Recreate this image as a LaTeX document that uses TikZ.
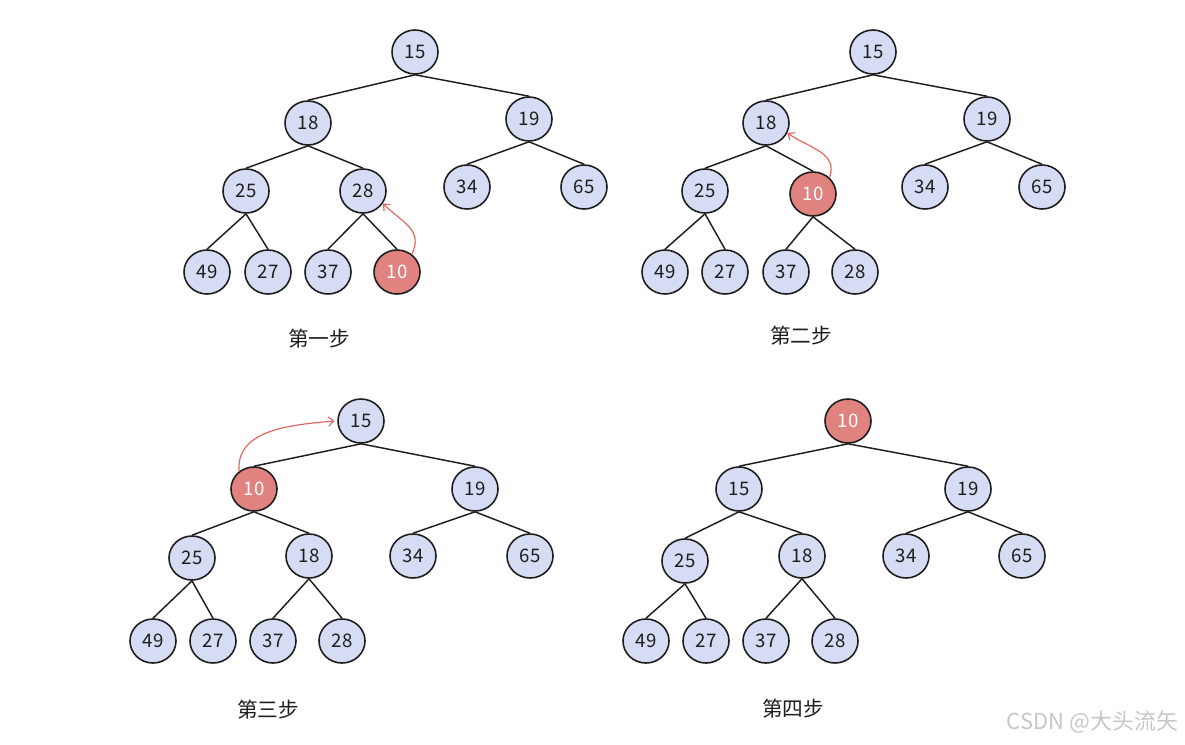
\documentclass[tikz,border=0pt]{standalone}
\usepackage{fontspec}
\setmainfont{Noto Sans CJK SC}
\usepackage{tikz}
\usetikzlibrary{positioning,arrows.meta,shapes.geometric}
\definecolor{heapfill}{RGB}{214,220,244}
\definecolor{swapfill}{RGB}{224,130,128}
\definecolor{arrowred}{RGB}{222,104,100}
\definecolor{ink}{RGB}{30,30,30}

\begin{document}
\begin{tikzpicture}[
    x=0.75pt, y=-0.75pt,
    heapnode/.style={ellipse, draw=ink, line width=1.2pt, fill=heapfill, minimum width=34.5pt, minimum height=33pt, inner sep=0pt, text=ink, font=\fontsize{14}{16}\selectfont},
    swapnode/.style={heapnode, fill=swapfill, text=white},
    edge/.style={draw=ink, line width=1.1pt},
    arrow/.style={-{Straight Barb[length=4pt,width=7pt]}, draw=arrowred, line width=0.9pt},
    steptext/.style={text=ink, font=\fontsize{15.5}{17}\selectfont}
]
\useasboundingbox (0,0) rectangle (1185,744);

% Step 1
\node[heapnode] (a15) at (415,52) {15};
\node[heapnode] (a18) at (308,123) {18};
\node[heapnode] (a19) at (529,119) {19};
\node[heapnode] (a25) at (246,191) {25};
\node[heapnode] (a28) at (363,191) {28};
\node[heapnode] (a34) at (467,187) {34};
\node[heapnode] (a65) at (584,187) {65};
\node[heapnode] (a49) at (207,272) {49};
\node[heapnode] (a27) at (268,272) {27};
\node[heapnode] (a37) at (328,272) {37};
\node[swapnode] (a10) at (397,272) {10};
\node[steptext] (astep) at (319,339) {第一步};

\draw[edge] (a15.south) -- (a18.north);
\draw[edge] (a15.south) -- (a19.north);
\draw[edge] (a18.south) -- (a25.north);
\draw[edge] (a18.south) -- (a28.north);
\draw[edge] (a19.south) -- (a34.north);
\draw[edge] (a19.south) -- (a65.north);
\draw[edge] (a25.south) -- (a49.north);
\draw[edge] (a25.south) -- (a27.north);
\draw[edge] (a28.south) -- (a37.north);
\draw[edge] (a28.south) -- (a10.north);
\draw[arrow] (a10.50) to[out=65, in=-45, looseness=1.2] (a28.-32);

% Step 2
\node[heapnode] (b15) at (873,52) {15};
\node[heapnode] (b18) at (766,123) {18};
\node[heapnode] (b19) at (987,119) {19};
\node[heapnode] (b25) at (705,191) {25};
\node[swapnode] (b10) at (813,194) {10};
\node[heapnode] (b34) at (925,187) {34};
\node[heapnode] (b65) at (1042,187) {65};
\node[heapnode] (b49) at (665,272) {49};
\node[heapnode] (b27) at (725,272) {27};
\node[heapnode] (b37) at (786,272) {37};
\node[heapnode] (b28) at (855,272) {28};
\node[steptext] (bstep) at (801,336) {第二步};

\draw[edge] (b15.south) -- (b18.north);
\draw[edge] (b15.south) -- (b19.north);
\draw[edge] (b18.south) -- (b25.north);
\draw[edge] (b18.south) -- (b10.north);
\draw[edge] (b19.south) -- (b34.north);
\draw[edge] (b19.south) -- (b65.north);
\draw[edge] (b25.south) -- (b49.north);
\draw[edge] (b25.south) -- (b27.north);
\draw[edge] (b10.south) -- (b37.north);
\draw[edge] (b10.south) -- (b28.north);
\draw[arrow] (b10.45) to[out=70, in=-35, looseness=1.1] (b18.-25);

% Step 3
\node[heapnode] (c15) at (361,421) {15};
\node[swapnode] (c10) at (254,489) {10};
\node[heapnode] (c19) at (475,489) {19};
\node[heapnode] (c25) at (192,558) {25};
\node[heapnode] (c18) at (309,556) {18};
\node[heapnode] (c34) at (413,556) {34};
\node[heapnode] (c65) at (530,556) {65};
\node[heapnode] (c49) at (153,641) {49};
\node[heapnode] (c27) at (213,641) {27};
\node[heapnode] (c37) at (273,641) {37};
\node[heapnode] (c28) at (342,641) {28};
\node[steptext] (cstep) at (268,710) {第三步};

\draw[edge] (c15.south) -- (c10.north);
\draw[edge] (c15.south) -- (c19.north);
\draw[edge] (c10.south) -- (c25.north);
\draw[edge] (c10.south) -- (c18.north);
\draw[edge] (c19.south) -- (c34.north);
\draw[edge] (c19.south) -- (c65.north);
\draw[edge] (c25.south) -- (c49.north);
\draw[edge] (c25.south) -- (c27.north);
\draw[edge] (c18.south) -- (c37.north);
\draw[edge] (c18.south) -- (c28.north);
\draw[arrow] (c10.130) to[out=95, in=185] ([xshift=-2pt]c15.west);

% Step 4
\node[swapnode] (d10) at (848,421) {10};
\node[heapnode] (d15) at (739,489) {15};
\node[heapnode] (d19) at (968,489) {19};
\node[heapnode] (d25) at (685,561) {25};
\node[heapnode] (d18) at (802,556) {18};
\node[heapnode] (d34) at (906,556) {34};
\node[heapnode] (d65) at (1022,556) {65};
\node[heapnode] (d49) at (646,641) {49};
\node[heapnode] (d27) at (706,641) {27};
\node[heapnode] (d37) at (766,641) {37};
\node[heapnode] (d28) at (835,641) {28};
\node[steptext] (dstep) at (793,709) {第四步};

\draw[edge] (d10.south) -- (d15.north);
\draw[edge] (d10.south) -- (d19.north);
\draw[edge] (d15.south) -- (d25.north);
\draw[edge] (d15.south) -- (d18.north);
\draw[edge] (d19.south) -- (d34.north);
\draw[edge] (d19.south) -- (d65.north);
\draw[edge] (d25.south) -- (d49.north);
\draw[edge] (d25.south) -- (d27.north);
\draw[edge] (d18.south) -- (d37.north);
\draw[edge] (d18.south) -- (d28.north);

% Watermark
\node[anchor=east, text=black!22, font=\fontsize{16.5}{18}\selectfont] (mark) at (1183,722) {CSDN @大头流矢};

\end{tikzpicture}
\end{document}
